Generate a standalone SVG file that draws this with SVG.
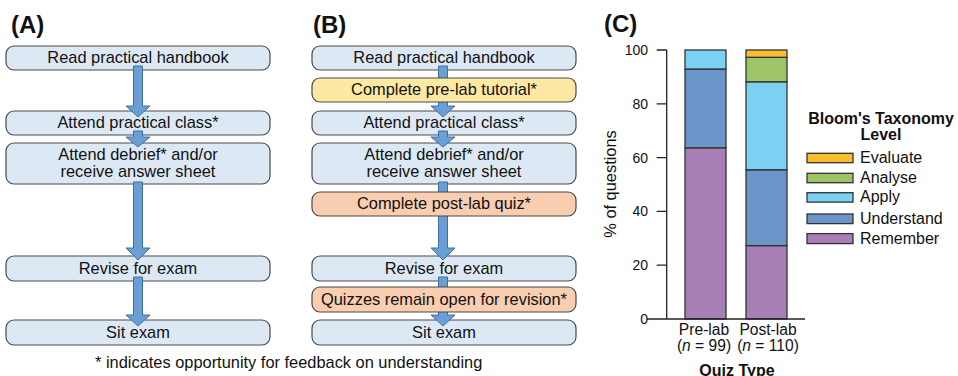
<svg xmlns="http://www.w3.org/2000/svg" width="958" height="376" viewBox="0 0 958 376">
<style>
text{font-family:"Liberation Sans",Arial,sans-serif;fill:#111}
.box{stroke:#4a4a4a;stroke-width:1.2}
.blue{fill:#dde8f5}
.yel{fill:#fde8a4}
.org{fill:#f8cdb0}
.t{font-size:16.4px;text-anchor:middle}
.ttl{font-size:24px;font-weight:bold}
.arr{fill:#6a9fd6;stroke:#3f6ea3;stroke-width:1}
.seg{stroke:#333;stroke-width:1.3}
.tick{font-size:14px;text-anchor:end}
.ax{stroke:#222;stroke-width:1.3;fill:none}
.lg{font-size:16px}
.xl{font-size:15.6px;text-anchor:middle}
.rem{fill:#a77fb6}.und{fill:#6b94c8}.app{fill:#7bd1f2}.ana{fill:#9fc468}.eva{fill:#f9be2e}
</style>

<text class="ttl" x="11" y="33">(A)</text>
<text class="ttl" x="313" y="33">(B)</text>
<text class="ttl" x="604" y="32">(C)</text>

<!-- Panel A nodes -->
<g id="a1"><rect class="box blue" x="6" y="46" width="264" height="24" rx="8"/><text class="t" x="138" y="63">Read practical handbook</text></g>
<g id="a2"><rect class="box blue" x="6" y="111" width="264" height="24" rx="8"/><text class="t" x="138" y="128">Attend practical class*</text></g>
<g id="a3"><rect class="box blue" x="6" y="143" width="264" height="41" rx="8"/><text class="t" x="138" y="160">Attend debrief* and/or</text><text class="t" x="138" y="176.5">receive answer sheet</text></g>
<g id="a4"><rect class="box blue" x="6" y="256" width="264" height="25" rx="8"/><text class="t" x="138" y="274">Revise for exam</text></g>
<g id="a5"><rect class="box blue" x="6" y="320" width="264" height="25" rx="8"/><text class="t" x="138" y="338">Sit exam</text></g>

<!-- Panel B blue nodes -->
<g id="b1"><rect class="box blue" x="312" y="46" width="264" height="24" rx="8"/><text class="t" x="444" y="63">Read practical handbook</text></g>
<g id="b3"><rect class="box blue" x="312" y="111" width="264" height="24" rx="8"/><text class="t" x="444" y="128">Attend practical class*</text></g>
<g id="b4"><rect class="box blue" x="312" y="143" width="264" height="41" rx="8"/><text class="t" x="444" y="160">Attend debrief* and/or</text><text class="t" x="444" y="176.5">receive answer sheet</text></g>
<g id="b6"><rect class="box blue" x="312" y="256" width="264" height="25" rx="8"/><text class="t" x="444" y="274">Revise for exam</text></g>
<g id="b8"><rect class="box blue" x="312" y="320" width="264" height="25" rx="8"/><text class="t" x="444" y="338">Sit exam</text></g>

<!-- Connectors -->
<g id="connectors">
<path class="arr" d="M133.5 66 H142.5 V106 H150 L138 117 L126 106 H133.5 Z"/>
<path class="arr" d="M133.5 131 H142.5 V137 H150 L138 147 L126 137 H133.5 Z"/>
<path class="arr" d="M133.5 182 H142.5 V248 H150 L138 260 L126 248 H133.5 Z"/>
<path class="arr" d="M133.5 277 H142.5 V315 H150 L138 326 L126 315 H133.5 Z"/>
<path class="arr" d="M438.5 66 H447.5 V106 H455 L443 117 L431 106 H438.5 Z"/>
<path class="arr" d="M438.5 131 H447.5 V137 H455 L443 147 L431 137 H438.5 Z"/>
<path class="arr" d="M438.5 182 H447.5 V248 H455 L443 260 L431 248 H438.5 Z"/>
<path class="arr" d="M438.5 277 H447.5 V315 H455 L443 326 L431 315 H438.5 Z"/>
</g>

<!-- Panel B inserted nodes -->
<g id="b2"><rect class="box yel" x="312" y="78" width="264" height="24" rx="8"/><text class="t" x="444" y="95">Complete pre-lab tutorial*</text></g>
<g id="b5"><rect class="box org" x="312" y="192" width="264" height="24" rx="8"/><text class="t" x="444" y="209">Complete post-lab quiz*</text></g>
<g id="b7"><rect class="box org" x="312" y="287" width="264" height="25" rx="8"/><text class="t" x="444" y="305">Quizzes remain open for revision*</text></g>

<text class="t" x="95" y="368" style="text-anchor:start">* indicates opportunity for feedback on understanding</text>

<!-- Panel C chart -->
<g id="chart">
<g id="bar-pre">
<rect class="seg rem" x="685" y="147.8" width="41" height="171.2"/>
<rect class="seg und" x="685" y="69" width="41" height="78.8"/>
<rect class="seg app" x="685" y="50" width="41" height="19"/>
</g>
<g id="bar-post">
<rect class="seg rem" x="746" y="245.6" width="41" height="73.4"/>
<rect class="seg und" x="746" y="169.8" width="41" height="75.8"/>
<rect class="seg app" x="746" y="81.8" width="41" height="88"/>
<rect class="seg ana" x="746" y="57.3" width="41" height="24.5"/>
<rect class="seg eva" x="746" y="50" width="41" height="7.3"/>
</g>
<g id="axes">
<path class="ax" d="M666.7 50 V319 M647 319 H805"/>
<path class="ax" d="M656.7 50 H666.7 M656.7 103.8 H666.7 M656.7 157.6 H666.7 M656.7 211.4 H666.7 M656.7 265.2 H666.7"/>
<text class="tick" x="648" y="55">100</text>
<text class="tick" x="648" y="108.8">80</text>
<text class="tick" x="648" y="162.6">60</text>
<text class="tick" x="648" y="216.4">40</text>
<text class="tick" x="648" y="270.2">20</text>
<text class="tick" x="648" y="324">0</text>
<text font-size="16.4" text-anchor="middle" transform="translate(615.5 184) rotate(-90)">% of questions</text>
<text class="xl" x="704" y="334.5">Pre-lab</text>
<text class="xl" x="704" y="350.5">(<tspan font-style="italic">n</tspan> = 99)</text>
<text class="xl" x="768" y="334.5">Post-lab</text>
<text class="xl" x="768" y="350.5">(<tspan font-style="italic">n</tspan> = 110)</text>
<text font-size="16" font-weight="bold" text-anchor="middle" x="737" y="375.5">Quiz Type</text>
</g>
<g id="legend">
<text class="lg" font-weight="bold" text-anchor="middle" x="881" y="123.5">Bloom's Taxonomy</text>
<text class="lg" font-weight="bold" text-anchor="middle" x="881" y="139.5">Level</text>
<rect class="seg eva" x="807" y="153.3" width="46" height="9.4"/><text class="lg" x="860" y="162.7">Evaluate</text>
<rect class="seg ana" x="807" y="173.3" width="46" height="9.4"/><text class="lg" x="860" y="182.7">Analyse</text>
<rect class="seg app" x="807" y="192.7" width="46" height="9.4"/><text class="lg" x="860" y="202.3">Apply</text>
<rect class="seg und" x="807" y="214" width="46" height="9.6"/><text class="lg" x="860" y="223.8">Understand</text>
<rect class="seg rem" x="807" y="233.6" width="46" height="10"/><text class="lg" x="860" y="243.5">Remember</text>
</g>
</g>
</svg>
